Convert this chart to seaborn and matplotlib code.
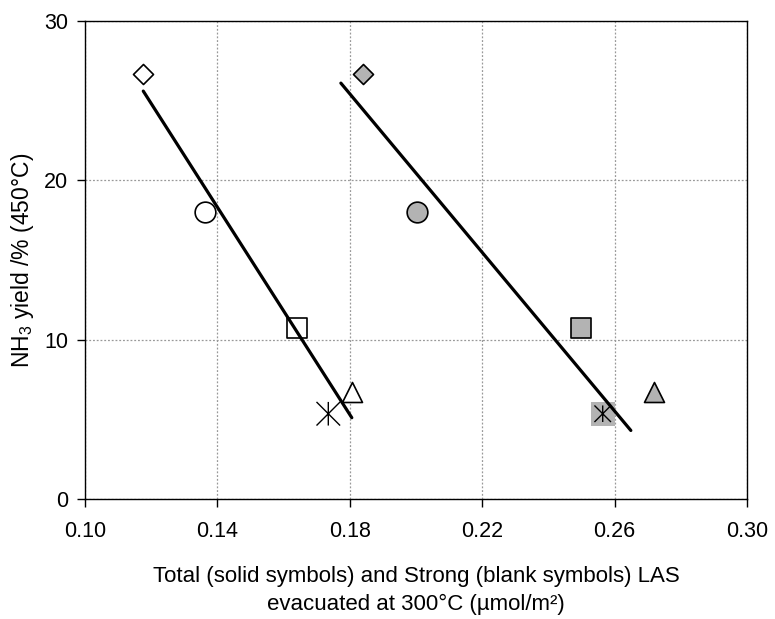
import numpy as np
import pandas as pd
import seaborn as sns
import matplotlib.pyplot as plt
from matplotlib.path import Path

# Strong LAS (blank symbols)
strong_x = [0.1176, 0.1363, 0.1641, 0.1806, 0.1735]
# Total LAS (solid symbols)
total_x = [0.1841, 0.2004, 0.2498, 0.2719, 0.2564]
# NH3 yield, same sample order
yield_y = [26.7, 18.0, 10.75, 6.7, 5.35]
markers = ['D', 'o', 's', '^', 'asterisk']

# linear trend lines (end points)
fit_strong_x = [0.1176, 0.1806]
fit_strong_y = [25.6, 5.1]
fit_total_x = [0.1773, 0.2649]
fit_total_y = [26.1, 4.3]

x_ticks = [0.10, 0.14, 0.18, 0.22, 0.26, 0.30]
y_ticks = [0, 10, 20, 30]

sns.set_style('white')
plt.rcParams['font.family'] = ['Liberation Sans', 'DejaVu Sans']
plt.rcParams['mathtext.default'] = 'regular'
plt.rcParams['text.color'] = 'black'
plt.rcParams['axes.labelcolor'] = 'black'
plt.rcParams['xtick.color'] = 'black'
plt.rcParams['ytick.color'] = 'black'

# Excel-like asterisk: an x plus a vertical bar
asterisk = Path([(-1, -1), (1, 1), (-1, 1), (1, -1), (0, -1), (0, 1)],
                [Path.MOVETO, Path.LINETO, Path.MOVETO, Path.LINETO, Path.MOVETO, Path.LINETO])

# marker sizes in points (full extent)
sizes = {'D': 10.2, 'o': 14.9, 's': 14.4, '^': 14.4, 'asterisk': 17}
gray = '#b3b3b3'

fig = plt.figure(figsize=(7.75, 6.19), dpi=100)
ax = fig.add_axes([0.1097, 0.1939, 0.8542, 0.7722])

for xo, xf, y, m in zip(strong_x, total_x, yield_y, markers):
    if m == 'asterisk':
        # solid one sits on a gray square
        sns.scatterplot(x=[xf], y=[y], marker='s', s=17 ** 2, color=gray, edgecolor='none', ax=ax, zorder=3)
        sns.scatterplot(x=[xf], y=[y], marker=asterisk, s=(sizes[m] * 0.7) ** 2, facecolor='none',
                        edgecolor='black', linewidth=1.0, ax=ax, zorder=4)
        sns.scatterplot(x=[xo], y=[y], marker=asterisk, s=sizes[m] ** 2, facecolor='none',
                        edgecolor='black', linewidth=1.0, ax=ax, zorder=4)
    else:
        sns.scatterplot(x=[xo], y=[y], marker=m, s=sizes[m] ** 2, facecolor='white', edgecolor='black',
                        linewidth=1.2, ax=ax, zorder=3)
        sns.scatterplot(x=[xf], y=[y], marker=m, s=sizes[m] ** 2, facecolor=gray, edgecolor='black',
                        linewidth=1.2, ax=ax, zorder=3)

sns.lineplot(x=fit_strong_x, y=fit_strong_y, color='black', linewidth=2.3, ax=ax, zorder=5)
sns.lineplot(x=fit_total_x, y=fit_total_y, color='black', linewidth=2.3, ax=ax, zorder=5)

ax.set_xlim(0.10, 0.30)
ax.set_ylim(0, 30)
ax.set_xticks(x_ticks)
ax.set_xticklabels([f'{t:.2f}' for t in x_ticks])
ax.set_yticks(y_ticks)
ax.set_yticklabels([str(t) for t in y_ticks])
ax.grid(True, color='#999999', linestyle=(0, (1.5, 1.5)), linewidth=0.9)
ax.set_axisbelow(True)
for sp in ax.spines.values():
    sp.set_color('black')
    sp.set_linewidth(1.0)
ax.tick_params(direction='out', length=6, width=1, color='black', pad=6, bottom=True, left=True)
ax.tick_params(axis='y', labelsize=15.5)
ax.tick_params(axis='x', pad=10, labelsize=15.5)

ax.set_xlabel('Total (solid symbols) and Strong (blank symbols) LAS\nevacuated at 300°C (µmol/m²)',
              fontsize=16, labelpad=17, linespacing=1.45)
ax.set_ylabel(r'NH$_3$ yield /% (450°C)', fontsize=16.5, labelpad=6)

fig.savefig('out.png', dpi=100)
